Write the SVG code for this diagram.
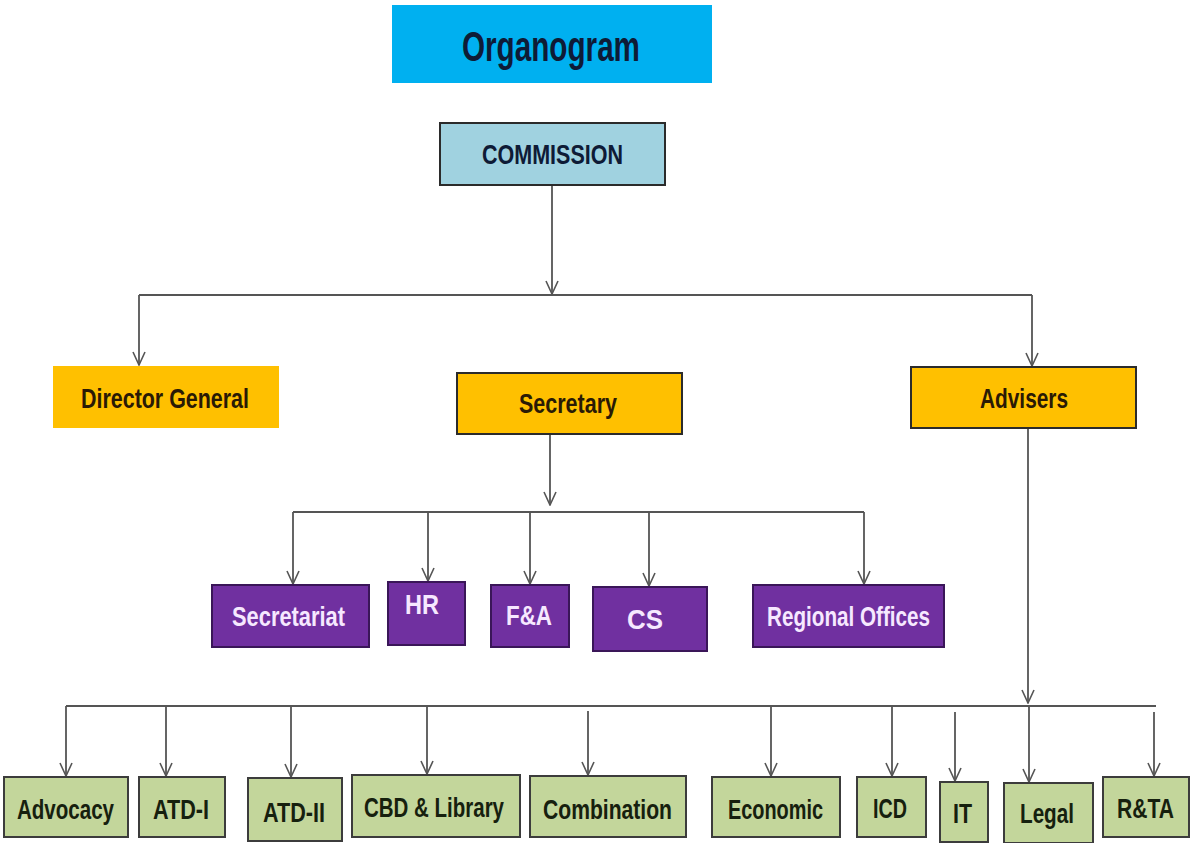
<svg xmlns="http://www.w3.org/2000/svg" width="1191" height="843" viewBox="0 0 1191 843">
<defs>
<style>
text{font-family:"Liberation Sans","DejaVu Sans",Arial,sans-serif;font-weight:bold;}
.lbl{font-size:28px;}
.title{fill:#00B0F0;}
.comm{fill:#A0D2E0;stroke:#2b2b2b;stroke-width:2;}
.yel{fill:#FFC000;}
.yelb{fill:#FFC000;stroke:#2b2b2b;stroke-width:2;}
.pur{fill:#7030A0;stroke:#3a1658;stroke-width:2;}
.grn{fill:#C3D69B;stroke:#3c3c3c;stroke-width:2;}
.tdark{fill:#0E1B36;}
.tyel{fill:#2A1A05;}
.tpur{fill:#F6E8FF;}
.tgrn{fill:#16200E;}
.conn path{fill:none;stroke:#555;stroke-width:1.8;}
</style>
<marker id="arr" markerUnits="userSpaceOnUse" viewBox="-1 -7 15 14" refX="13" refY="0" markerWidth="15" markerHeight="14" orient="auto">
<path d="M0,-6 L13,0 L0,6" fill="none" stroke="#555" stroke-width="1.6"/>
</marker>
</defs>
<rect width="1191" height="843" fill="#ffffff"/>

<g id="connectors" class="conn">
<path d="M552,185 V294" marker-end="url(#arr)"/>
<path d="M139,295 H1032"/>
<path d="M139,295 V365" marker-end="url(#arr)"/>
<path d="M1032,295 V366" marker-end="url(#arr)"/>
<path d="M550,434 V505" marker-end="url(#arr)"/>
<path d="M293,512 H864"/>
<path d="M293,512 V584" marker-end="url(#arr)"/>
<path d="M428,512 V581" marker-end="url(#arr)"/>
<path d="M530,512 V584" marker-end="url(#arr)"/>
<path d="M649,512 V586" marker-end="url(#arr)"/>
<path d="M864,512 V584" marker-end="url(#arr)"/>
<path d="M1028,428 V703" marker-end="url(#arr)"/>
<path d="M66,706 H1156"/>
<path d="M66,706 V776" marker-end="url(#arr)"/>
<path d="M166,706 V776" marker-end="url(#arr)"/>
<path d="M291,706 V777" marker-end="url(#arr)"/>
<path d="M427,706 V774" marker-end="url(#arr)"/>
<path d="M588,711 V775" marker-end="url(#arr)"/>
<path d="M771,706 V776" marker-end="url(#arr)"/>
<path d="M892,706 V776" marker-end="url(#arr)"/>
<path d="M955,712 V781" marker-end="url(#arr)"/>
<path d="M1029,706 V782" marker-end="url(#arr)"/>
<path d="M1154,712 V776" marker-end="url(#arr)"/>
</g>

<g id="title">
<rect class="title" x="392" y="5" width="320" height="78"/>
<text class="tdark" x="462" y="61" font-size="42" textLength="178" lengthAdjust="spacingAndGlyphs">Organogram</text>
</g>
<g id="commission">
<rect class="comm" x="440" y="123" width="225" height="62"/>
<text class="tdark" x="482" y="164" font-size="28" textLength="141" lengthAdjust="spacingAndGlyphs">COMMISSION</text>
</g>
<g id="director-general">
<rect class="yel" x="53" y="366" width="226" height="62"/>
<text class="tyel lbl" x="81" y="408" textLength="168" lengthAdjust="spacingAndGlyphs">Director General</text>
</g>
<g id="secretary">
<rect class="yelb" x="457" y="373" width="225" height="61"/>
<text class="tyel lbl" x="519" y="413" textLength="98" lengthAdjust="spacingAndGlyphs">Secretary</text>
</g>
<g id="advisers">
<rect class="yelb" x="911" y="367" width="225" height="61"/>
<text class="tyel lbl" x="980" y="408" textLength="88" lengthAdjust="spacingAndGlyphs">Advisers</text>
</g>

<g id="secretariat">
<rect class="pur" x="212" y="585" width="157" height="62"/>
<text class="tpur lbl" x="232" y="626" textLength="113" lengthAdjust="spacingAndGlyphs">Secretariat</text>
</g>
<g id="hr">
<rect class="pur" x="388" y="582" width="77" height="63"/>
<text class="tpur lbl" x="405" y="614" textLength="34" lengthAdjust="spacingAndGlyphs">HR</text>
</g>
<g id="fa">
<rect class="pur" x="491" y="585" width="78" height="62"/>
<text class="tpur lbl" x="506" y="625" textLength="46" lengthAdjust="spacingAndGlyphs">F&amp;A</text>
</g>
<g id="cs">
<rect class="pur" x="593" y="587" width="114" height="64"/>
<text class="tpur lbl" x="627" y="629" textLength="36" lengthAdjust="spacingAndGlyphs">CS</text>
</g>
<g id="regional-offices">
<rect class="pur" x="753" y="585" width="191" height="62"/>
<text class="tpur lbl" x="767" y="626" textLength="163" lengthAdjust="spacingAndGlyphs">Regional Offices</text>
</g>

<g id="advocacy">
<rect class="grn" x="4" y="777" width="124" height="60"/>
<text class="tgrn lbl" x="17" y="819" textLength="97" lengthAdjust="spacingAndGlyphs">Advocacy</text>
</g>
<g id="atd-i">
<rect class="grn" x="139" y="777" width="86" height="60"/>
<text class="tgrn lbl" x="153" y="819" textLength="56" lengthAdjust="spacingAndGlyphs">ATD-I</text>
</g>
<g id="atd-ii">
<rect class="grn" x="248" y="778" width="94" height="63"/>
<text class="tgrn lbl" x="263" y="822" textLength="62" lengthAdjust="spacingAndGlyphs">ATD-II</text>
</g>
<g id="cbd-library">
<rect class="grn" x="352" y="775" width="168" height="62"/>
<text class="tgrn lbl" x="364" y="817" textLength="140" lengthAdjust="spacingAndGlyphs">CBD &amp; Library</text>
</g>
<g id="combination">
<rect class="grn" x="530" y="776" width="156" height="61"/>
<text class="tgrn lbl" x="543" y="819" textLength="129" lengthAdjust="spacingAndGlyphs">Combination</text>
</g>
<g id="economic">
<rect class="grn" x="712" y="777" width="128" height="60"/>
<text class="tgrn lbl" x="728" y="819" textLength="95" lengthAdjust="spacingAndGlyphs">Economic</text>
</g>
<g id="icd">
<rect class="grn" x="857" y="777" width="69" height="60"/>
<text class="tgrn lbl" x="873" y="818" textLength="34" lengthAdjust="spacingAndGlyphs">ICD</text>
</g>
<g id="it">
<rect class="grn" x="940" y="782" width="48" height="60"/>
<text class="tgrn lbl" x="953" y="823" textLength="19" lengthAdjust="spacingAndGlyphs">IT</text>
</g>
<g id="legal">
<rect class="grn" x="1004" y="783" width="89" height="60"/>
<text class="tgrn lbl" x="1020" y="823" textLength="54" lengthAdjust="spacingAndGlyphs">Legal</text>
</g>
<g id="rta">
<rect class="grn" x="1103" y="777" width="86" height="60"/>
<text class="tgrn lbl" x="1117" y="818" textLength="57" lengthAdjust="spacingAndGlyphs">R&amp;TA</text>
</g>
</svg>
